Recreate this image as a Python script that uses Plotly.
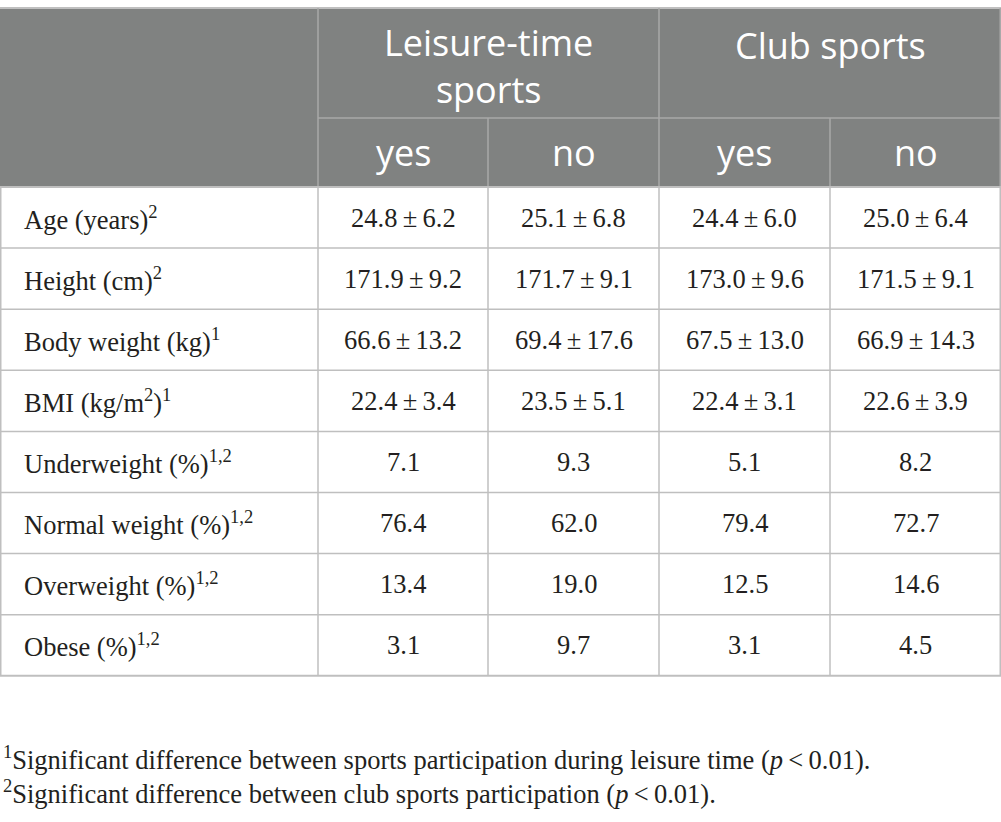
import plotly.graph_objects as go

# ---------------- data ----------------
group_labels = ["Leisure-time<br>sports", "Club sports"]
sub_labels = ["yes", "no", "yes", "no"]
row_labels = [
    "Age (years)<sup>2</sup>",
    "Height (cm)<sup>2</sup>",
    "Body weight (kg)<sup>1</sup>",
    "BMI (kg/m<sup>2</sup>)<sup>1</sup>",
    "Underweight (%)<sup>1,2</sup>",
    "Normal weight (%)<sup>1,2</sup>",
    "Overweight (%)<sup>1,2</sup>",
    "Obese (%)<sup>1,2</sup>",
]
leisure_yes_mean = [24.8, 171.9, 66.6, 22.4, 7.1, 76.4, 13.4, 3.1]
leisure_yes_sd = [6.2, 9.2, 13.2, 3.4, None, None, None, None]
leisure_no_mean = [25.1, 171.7, 69.4, 23.5, 9.3, 62.0, 19.0, 9.7]
leisure_no_sd = [6.8, 9.1, 17.6, 5.1, None, None, None, None]
club_yes_mean = [24.4, 173.0, 67.5, 22.4, 5.1, 79.4, 12.5, 3.1]
club_yes_sd = [6.0, 9.6, 13.0, 3.1, None, None, None, None]
club_no_mean = [25.0, 171.5, 66.9, 22.6, 8.2, 72.7, 14.6, 4.5]
club_no_sd = [6.4, 9.1, 14.3, 3.9, None, None, None, None]
footnotes = [
    "<sup>1</sup>Significant difference between sports participation during leisure time (<i>p</i>\u2009&lt;\u20090.01).",
    "<sup>2</sup>Significant difference between club sports participation (<i>p</i>\u2009&lt;\u20090.01).",
]

# ---------------- layout parameters ----------------
W, H = 1001, 822
col_edges = [0, 318, 488, 659, 830, 1001]
hdr_top, hdr_mid, hdr_bot = 8, 118, 187
hdr_line1_y = 45          # centre of the first header line
hdr_block_y = 66          # centre of a two-line header block
row_h = 61.1
label_x = 22
foot_x = 1
foot_y0, foot_dy = 758, 34

HDR_BG = "#808281"
GRID = "#bfbfbf"
HDR_GRID = "#a9a9a9"
TXT = "#231f20"
SERIF = "Liberation Serif"
SANS = "Open Sans"
BODY_SIZE = 26.5
HDR_SIZE = 36
FOOT_SIZE = 26.5


def fmt(m, s):
    if s is None:
        return f"{m:.1f}"
    return f"{m:.1f}\u2009±\u2009{s:.1f}"


columns = [
    [fmt(m, s) for m, s in zip(leisure_yes_mean, leisure_yes_sd)],
    [fmt(m, s) for m, s in zip(leisure_no_mean, leisure_no_sd)],
    [fmt(m, s) for m, s in zip(club_yes_mean, club_yes_sd)],
    [fmt(m, s) for m, s in zip(club_no_mean, club_no_sd)],
]

n_rows = len(row_labels)
row_edges = [hdr_bot + i * row_h for i in range(n_rows + 1)]
row_centers = [(row_edges[i] + row_edges[i + 1]) / 2 for i in range(n_rows)]
col_centers = [(col_edges[i] + col_edges[i + 1]) / 2 for i in range(len(col_edges) - 1)]
body_bot = row_edges[-1]

fig = go.Figure()
# invisible trace to anchor the axes
fig.add_trace(go.Scatter(x=[0, W], y=[0, H], mode="markers", marker=dict(opacity=0),
                         hoverinfo="skip", showlegend=False))

shapes = []
shapes.append(dict(type="rect", xref="x", yref="y", x0=col_edges[0], x1=col_edges[-1],
                   y0=hdr_top, y1=hdr_bot, fillcolor=HDR_BG, line=dict(width=0), layer="below"))


def line(x0, y0, x1, y1, color, width=1.5):
    shapes.append(dict(type="line", xref="x", yref="y", x0=x0, y0=y0, x1=x1, y1=y1,
                       line=dict(color=color, width=width)))


# header lines
line(col_edges[0], hdr_top, col_edges[-1], hdr_top, GRID, 2)
line(col_edges[1], hdr_mid, col_edges[-1], hdr_mid, HDR_GRID)
for k in (1, 3):
    line(col_edges[k], hdr_top, col_edges[k], hdr_bot, HDR_GRID)
for k in (2, 4):
    line(col_edges[k], hdr_mid, col_edges[k], hdr_bot, HDR_GRID)
line(col_edges[-1] - 0.75, hdr_top, col_edges[-1] - 0.75, hdr_bot, HDR_GRID)

# body lines
for y in row_edges:
    line(col_edges[0], y, col_edges[-1], y, GRID, 2 if y in (row_edges[0], row_edges[-1]) else 1.5)
for k, x in enumerate(col_edges):
    xx = x + 0.75 if k == 0 else (x - 0.75 if k == len(col_edges) - 1 else x)
    line(xx, hdr_bot, xx, body_bot, GRID)

annotations = []


def txt(x, y, t, xanchor, family, size, color):
    annotations.append(dict(x=x, y=y, xref="x", yref="y", text=t, showarrow=False,
                            xanchor=xanchor, yanchor="middle",
                            font=dict(family=family, size=size, color=color)))


# group headers (top aligned: single-line labels sit on the first line)
for g, lab in enumerate(group_labels):
    x_mid = (col_edges[1 + 2 * g] + col_edges[3 + 2 * g]) / 2
    y = hdr_block_y if "<br>" in lab else hdr_line1_y
    txt(x_mid, y, lab, "center", SANS, HDR_SIZE, "white")
# sub headers
for j, lab in enumerate(sub_labels):
    txt(col_centers[j + 1], (hdr_mid + hdr_bot) / 2, lab, "center", SANS, HDR_SIZE, "white")
# row labels
for i, lab in enumerate(row_labels):
    txt(label_x, row_centers[i], lab, "left", SERIF, BODY_SIZE, TXT)
# cell values
for j, vals in enumerate(columns):
    for i, v in enumerate(vals):
        txt(col_centers[j + 1], row_centers[i], v, "center", SERIF, BODY_SIZE, TXT)
# footnotes
for i, t in enumerate(footnotes):
    txt(foot_x, foot_y0 + i * foot_dy, t, "left", SERIF, FOOT_SIZE, TXT)

fig.update_layout(
    width=W, height=H, margin=dict(l=0, r=0, t=0, b=0, pad=0),
    paper_bgcolor="white", plot_bgcolor="white",
    xaxis=dict(range=[0, W], visible=False, fixedrange=True),
    yaxis=dict(range=[H, 0], visible=False, fixedrange=True),
    shapes=shapes, annotations=annotations, showlegend=False,
)

fig.write_html("out.html", config={"displayModeBar": False},
               post_script="document.body.style.margin='0';document.body.style.overflow='hidden';")
